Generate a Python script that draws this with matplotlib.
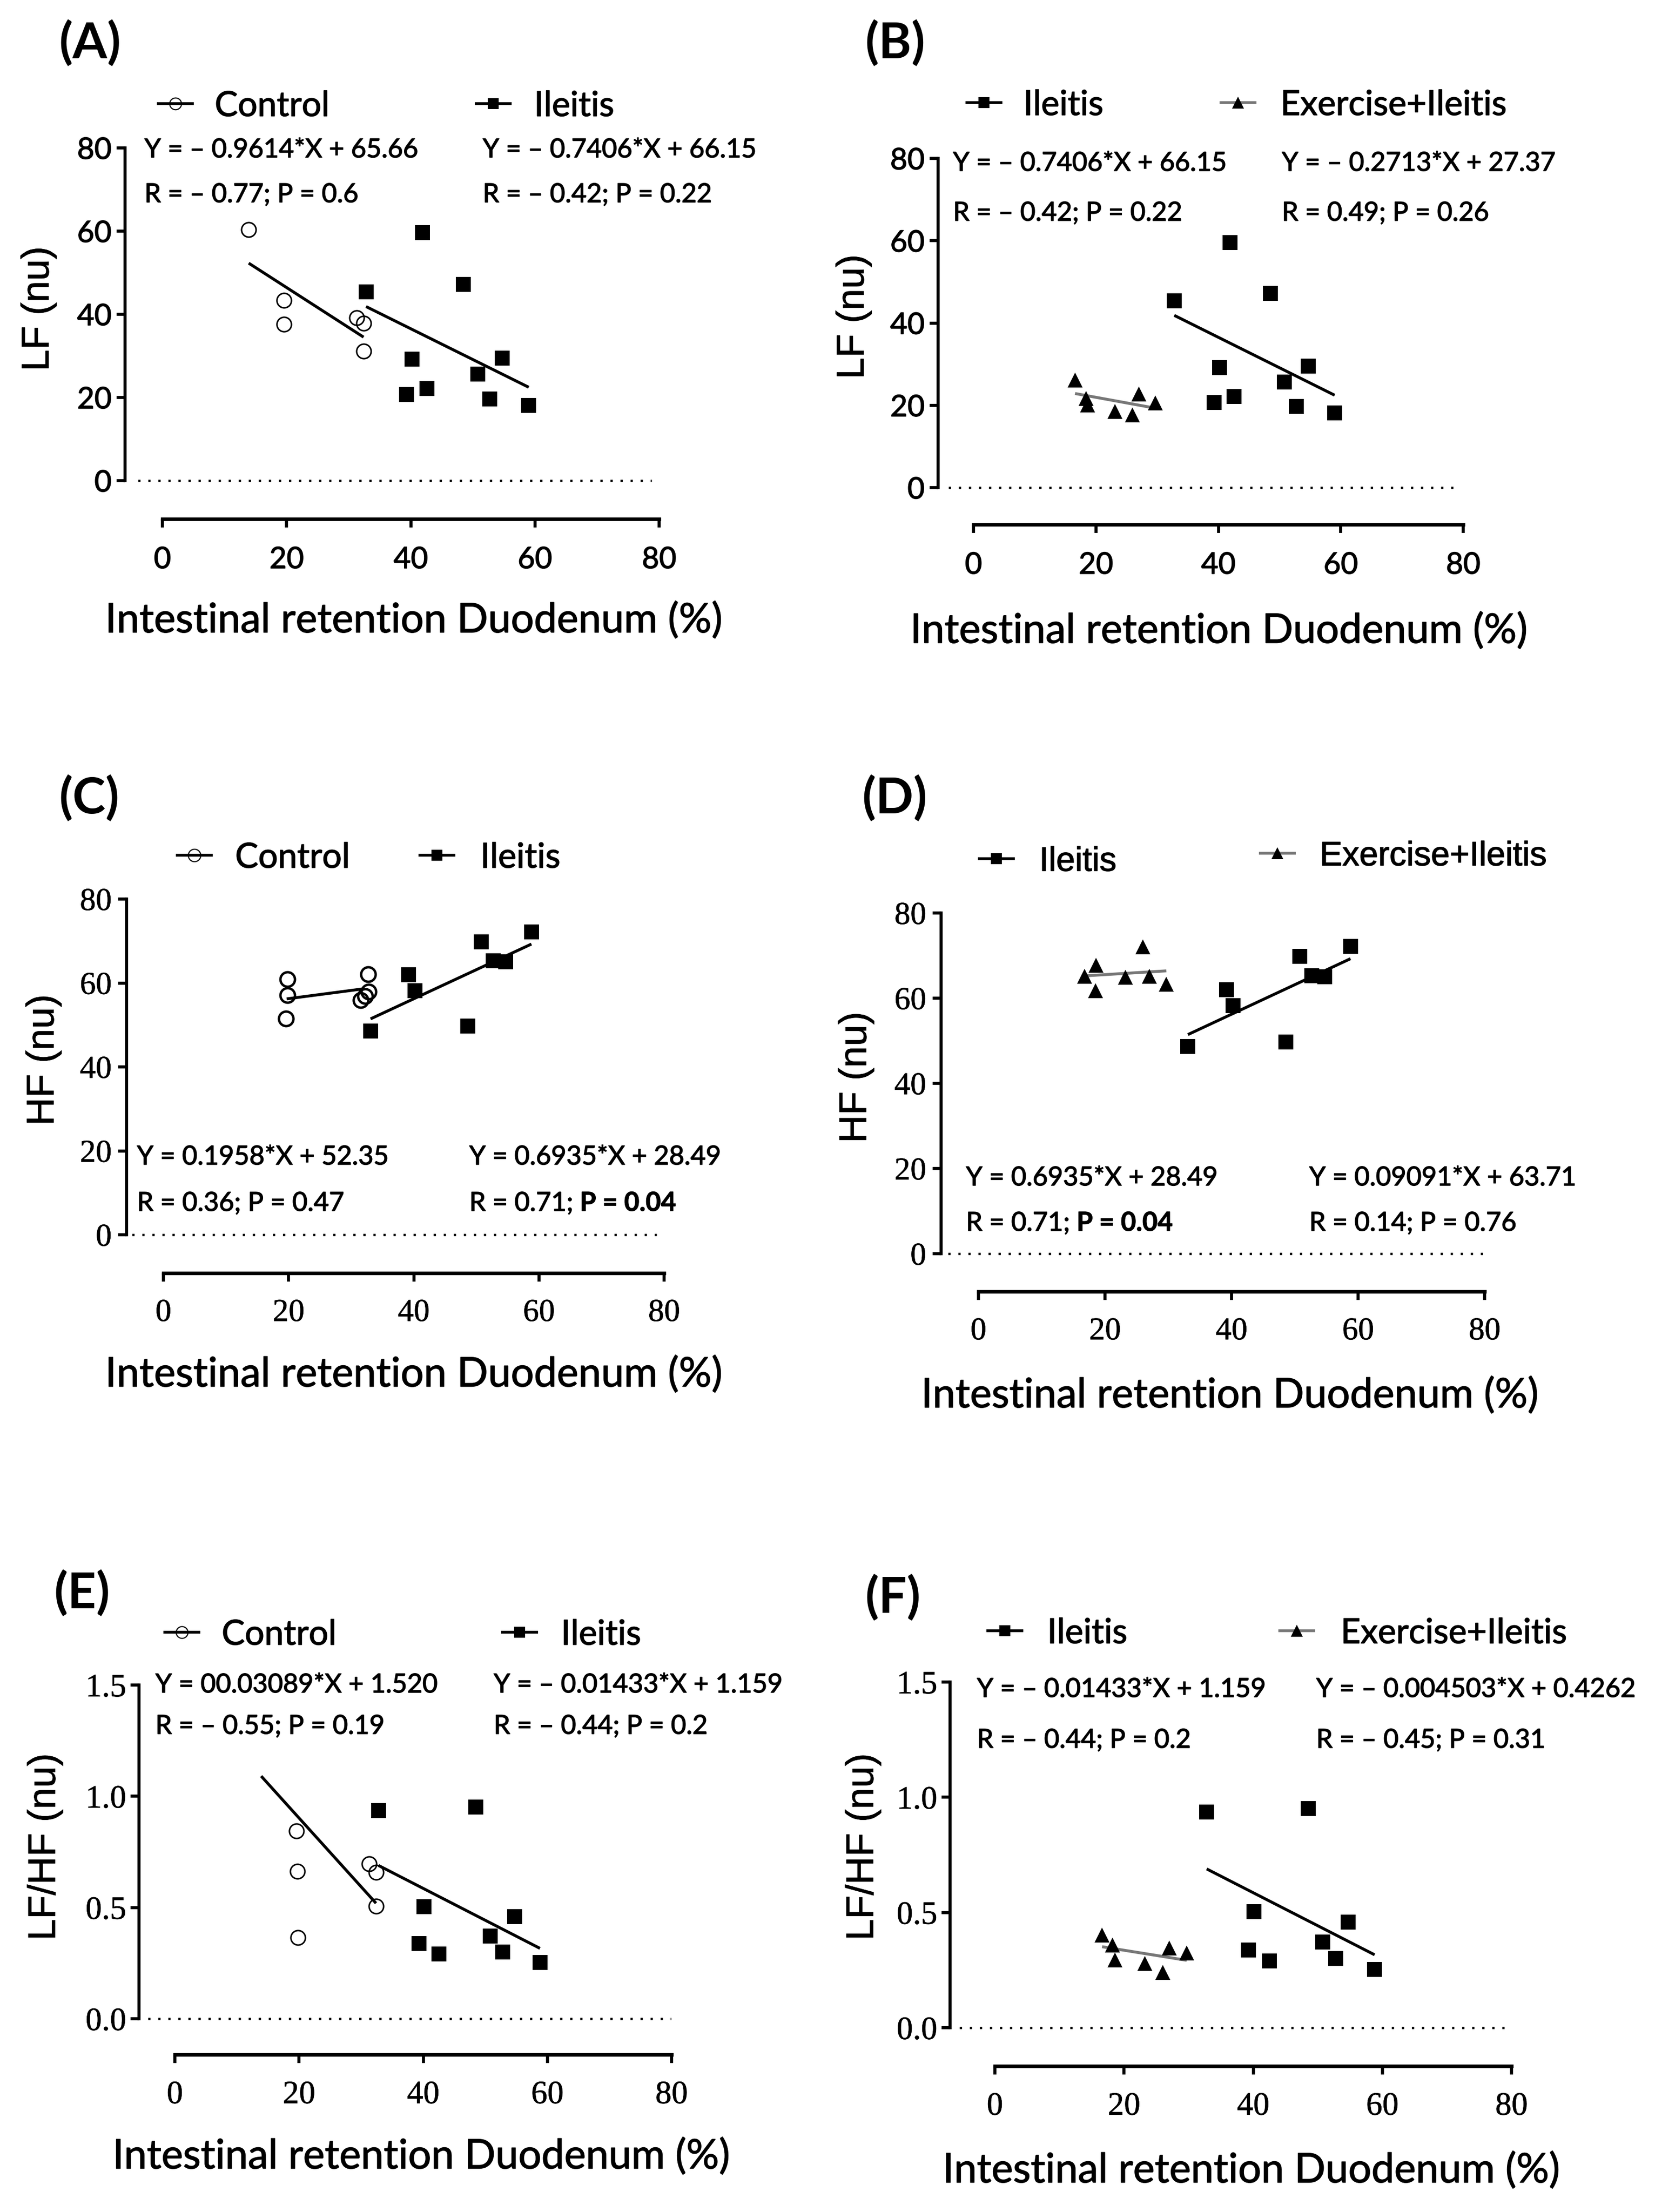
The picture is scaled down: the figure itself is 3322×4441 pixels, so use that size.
import matplotlib
matplotlib.use("Agg")
import matplotlib.pyplot as plt
import matplotlib.patheffects as pe
from matplotlib.lines import Line2D

W, H, DPI = 3322, 4441, 100
PT = 72.0 / DPI

SANS = ["Lato", "DejaVu Sans"]
ARIAL = ["Liberation Sans", "DejaVu Sans"]
SERIF = ["Liberation Serif", "DejaVu Serif"]


def stroke(w):
    return [pe.withStroke(linewidth=w, foreground="black")]


# ---------------- data ----------------
x_ticks = [0, 20, 40, 60, 80]
x_ticklabels = ["0", "20", "40", "60", "80"]
y_ticks_nu = [0, 20, 40, 60, 80]
y_ticklabels_nu = ["0", "20", "40", "60", "80"]
y_ticks_ratio = [0.0, 0.5, 1.0, 1.5]
y_ticklabels_ratio = ["0.0", "0.5", "1.0", "1.5"]

# LF (nu)
ctrl_lf_x = [13.9, 19.6, 19.6, 31.3, 32.4, 32.4]
ctrl_lf_y = [60.4, 43.3, 37.6, 39.2, 37.8, 31.1]
ile_lf_x = [32.8, 41.9, 48.5, 40.2, 39.3, 42.6, 50.8, 54.7, 52.7, 59.0]
ile_lf_y = [45.4, 59.6, 47.2, 29.2, 20.7, 22.1, 25.6, 29.5, 19.7, 18.1]
ex_lf_x = [16.6, 18.4, 18.6, 23.1, 26.0, 27.0, 29.7]
ex_lf_y = [26.2, 21.7, 20.1, 18.5, 17.7, 22.7, 20.6]

# HF (nu)
ctrl_hf_x = [19.8, 19.8, 19.6, 31.5, 32.2, 32.8, 32.7]
ctrl_hf_y = [60.9, 57.1, 51.5, 55.9, 56.9, 57.9, 62.1]
ile_hf_x = [33.1, 39.2, 40.2, 48.6, 50.8, 52.7, 54.7, 58.8]
ile_hf_y = [48.6, 62.0, 58.2, 49.7, 69.8, 65.3, 65.0, 72.2]
ex_hf_x = [16.8, 18.6, 18.5, 23.2, 26.0, 27.0, 29.7]
ex_hf_y = [65.2, 67.7, 61.7, 64.9, 72.0, 65.1, 63.3]

# LF/HF (nu)
ctrl_ratio_x = [19.6, 19.7, 19.8, 31.3, 32.4, 32.4]
ctrl_ratio_y = [0.844, 0.662, 0.366, 0.697, 0.658, 0.507]
ile_ratio_x = [32.8, 48.5, 40.1, 39.3, 42.5, 50.8, 54.7, 52.8, 58.8]
ile_ratio_y = [0.935, 0.952, 0.503, 0.337, 0.290, 0.372, 0.459, 0.300, 0.252]
ex_ratio_x = [16.6, 18.2, 18.6, 23.2, 26.0, 27.0, 29.7]
ex_ratio_y = [0.403, 0.359, 0.295, 0.279, 0.239, 0.345, 0.325]

# regression fits: (slope, intercept, x range of the drawn line)
fit_ctrl_lf = (-0.9614, 65.66, [13.9, 32.4])
fit_ile_lf = (-0.7406, 66.15, [32.8, 59.0])
fit_ex_lf = (-0.2713, 27.37, [16.6, 29.7])
fit_ctrl_hf = (0.1958, 52.35, [19.7, 31.8])
fit_ile_hf = (0.6935, 28.49, [33.1, 58.8])
fit_ex_hf = (0.09091, 63.71, [16.8, 29.7])
fit_ctrl_ratio = (-0.03089, 1.520, [13.9, 32.4])
fit_ile_ratio = (-0.01433, 1.159, [32.8, 58.8])
fit_ex_ratio = (-0.004503, 0.4262, [16.6, 29.7])

xlabel_text = "Intestinal retention Duodenum (%)"

# ---------------- styles ----------------
CTRL = dict(marker="o", ms=21, mfc="none", mec="black", mew=2.2, ls="none", color="black")
ILE = dict(marker="s", ms=21, mfc="black", mec="black", mew=0, ls="none", color="black")
EX = dict(marker="^", ms=22, mfc="black", mec="black", mew=0, ls="none", color="black")
GREY = "#777777"

fig = plt.figure(figsize=(W / DPI, H / DPI), dpi=DPI)
fig.patch.set_facecolor("white")


def fx(px):
    return px / W


def fy(py):
    return 1 - py / H


def ftext(px, pycap, s, size, family=SANS, weight="normal", capfrac=0.72, sw=1.0):
    base = pycap + capfrac * size / PT / 2.0
    t = fig.text(fx(px), fy(base), s, fontsize=size, family=family,
                 weight=weight, ha="left", va="baseline", color="black")
    if sw:
        t.set_path_effects(stroke(sw))
    return t


def legend_key(cx, cy, style, line_color, ms):
    fig.add_artist(Line2D([fx(cx - 37), fx(cx + 37)], [fy(cy), fy(cy)],
                          color=line_color, lw=4, transform=fig.transFigure,
                          solid_capstyle="butt"))
    st = dict(style)
    st["ms"] = ms
    st["mew"] = min(st["mew"], 1.6)
    fig.add_artist(Line2D([fx(cx)], [fy(cy)], transform=fig.transFigure, **st))


def draw_fit(ax, fit, color):
    m, b, xr = fit
    ax.plot(xr, [m * xr[0] + b, m * xr[1] + b], color=color, lw=4.2,
            solid_capstyle="butt", clip_on=False, zorder=2)


def make_panel(p):
    x0, x80, ytop, ybot = p["x0"], p["x80"], p["ytop"], p["ybot"]
    ax = fig.add_axes([fx(x0), fy(ybot), (x80 - x0) / W, (ybot - ytop) / H])
    ax.set_xlim(0, 80)
    ax.set_ylim(0, p["ymax"])
    ax.patch.set_visible(False)
    for s in ("top", "right"):
        ax.spines[s].set_visible(False)
    ax.spines["left"].set_position(("outward", (x0 - p["yspine"]) * PT))
    ax.spines["bottom"].set_position(("outward", (p["xspine"] - ybot) * PT))
    ax.spines["left"].set_linewidth(4.5)
    ax.spines["bottom"].set_linewidth(5.2)
    ax.spines["left"].set_capstyle("projecting")
    ax.spines["bottom"].set_capstyle("projecting")
    tf = p["tickfont"]
    ax.set_xticks(x_ticks, x_ticklabels, fontsize=p["ticksize"], family=tf)
    ax.set_yticks(p["yticks"], p["yticklabels"], fontsize=p["ticksize"], family=tf)
    for lab in ax.get_xticklabels() + ax.get_yticklabels():
        lab.set_path_effects(stroke(p["ticksw"]))
    ax.tick_params(axis="both", direction="out", length=12.5, width=4.5, color="black")
    ax.tick_params(axis="x", pad=p["xpad"])
    ax.tick_params(axis="y", pad=p["ypad"])
    # dotted zero reference line
    ax.plot(p["zero_x"], [0, 0], color="black", lw=3.3, ls=(0, (1, 3.4)),
            clip_on=False, zorder=1)
    # axis labels
    xl = ax.set_xlabel(xlabel_text, fontsize=59, family=SANS, va="center", ha="center")
    xl.set_path_effects(stroke(1.0))
    ax.xaxis.set_label_coords((p["xl"][0] - x0) / (x80 - x0),
                              (ybot - p["xl"][1]) / (ybot - ytop))
    yl = ax.set_ylabel(p["ylabel"], fontsize=56, family=ARIAL, va="center", ha="center")
    yl.set_path_effects(stroke(0.6))
    ax.yaxis.set_label_coords((p["yl"][0] - x0) / (x80 - x0),
                              (ybot - p["yl"][1]) / (ybot - ytop))
    # panel letter
    fig.text(fx(p["letter"][1]), fy(p["letter"][2]), p["letter"][0], fontsize=72,
             family=SANS, weight="bold", ha="left", va="center")
    return ax


def bold_tail(ax, t, s, size):
    a = ax.annotate(s, xy=(1, 0), xycoords=t, xytext=(13, 0), textcoords="offset pixels",
                    fontsize=size, family=SANS, weight="bold", ha="left", va="bottom",
                    annotation_clip=False)
    a.set_path_effects(stroke(0.8))


EQ = 38
LEG = 50

# ================= Panel A =================
pA = dict(yspine=251, x0=326, x80=1323, ytop=297, ybot=965, xspine=1042, ymax=80,
          yticks=y_ticks_nu, yticklabels=y_ticklabels_nu, tickfont=SANS, ticksize=43,
          ticksw=1.0, xpad=27, ypad=7, zero_x=[-3.9, 78.8], xl=(831, 1246), yl=(77, 620),
          ylabel="LF (nu)", letter=("(A)", 118, 87))
ax = make_panel(pA)
draw_fit(ax, fit_ctrl_lf, "black")
draw_fit(ax, fit_ile_lf, "black")
ax.plot(ctrl_lf_x, ctrl_lf_y, clip_on=False, zorder=3, **CTRL)
ax.plot(ile_lf_x, ile_lf_y, clip_on=False, zorder=3, **ILE)
legend_key(352, 208, CTRL, "black", 17)
ftext(431, 208, "Control", LEG)
legend_key(990, 208, ILE, "black", 16)
ftext(1072, 208, "Ileitis", LEG)
ftext(290, 297, "Y = – 0.9614*X + 65.66", EQ)
ftext(290, 387, "R = – 0.77; P = 0.6", EQ)
ftext(969, 297, "Y = – 0.7406*X + 66.15", EQ)
ftext(969, 387, "R = – 0.42; P = 0.22", EQ)

# ================= Panel B =================
pB = dict(yspine=1883, x0=1954, x80=2937, ytop=318, ybot=979, xspine=1053, ymax=80,
          yticks=y_ticks_nu, yticklabels=y_ticklabels_nu, tickfont=SANS, ticksize=43,
          ticksw=1.0, xpad=27, ypad=7, zero_x=[-4.1, 78.7], xl=(2447, 1267), yl=(1713, 636),
          ylabel="LF (nu)", letter=("(B)", 1736, 87))
ax = make_panel(pB)
draw_fit(ax, fit_ile_lf, "black")
draw_fit(ax, fit_ex_lf, GREY)
ax.plot(ile_lf_x, ile_lf_y, clip_on=False, zorder=3, **ILE)
ax.plot(ex_lf_x, ex_lf_y, clip_on=False, zorder=3, **EX)
legend_key(1975, 206, ILE, "black", 16)
ftext(2054, 206, "Ileitis", LEG)
legend_key(2485, 206, EX, GREY, 17)
ftext(2570, 206, "Exercise+Ileitis", LEG)
ftext(1913, 324, "Y = – 0.7406*X + 66.15", EQ)
ftext(1913, 424, "R = – 0.42; P = 0.22", EQ)
ftext(2573, 324, "Y = – 0.2713*X + 27.37", EQ)
ftext(2573, 424, "R = 0.49; P = 0.26", EQ)

# ================= Panel C =================
pC = dict(yspine=254, x0=328, x80=1333, ytop=1805, ybot=2479, xspine=2556, ymax=80,
          yticks=y_ticks_nu, yticklabels=y_ticklabels_nu, tickfont=SERIF, ticksize=46,
          ticksw=0.5, xpad=25, ypad=9, zero_x=[-5.0, 78.8], xl=(831, 2760), yl=(87, 2128),
          ylabel="HF (nu)", letter=("(C)", 118, 1603))
ax = make_panel(pC)
draw_fit(ax, fit_ctrl_hf, "black")
draw_fit(ax, fit_ile_hf, "black")
ctrl_thick = dict(CTRL)
ctrl_thick["mew"] = 3.5
ax.plot(ctrl_hf_x, ctrl_hf_y, clip_on=False, zorder=3, **ctrl_thick)
ax.plot(ile_hf_x, ile_hf_y, clip_on=False, zorder=3, **ILE)
legend_key(390, 1717, ctrl_thick, "black", 18)
ftext(472, 1717, "Control", LEG)
legend_key(877, 1717, ILE, "black", 16)
ftext(964, 1717, "Ileitis", LEG)
ftext(275, 2319, "Y = 0.1958*X + 52.35", EQ)
ftext(275, 2412, "R = 0.36; P = 0.47", EQ)
ftext(942, 2319, "Y = 0.6935*X + 28.49", EQ)
t = ftext(942, 2412, "R = 0.71;", EQ)
bold_tail(ax, t, "P = 0.04", EQ)

# ================= Panel D =================
pD = dict(yspine=1889, x0=1964, x80=2980, ytop=1833, ybot=2517, xspine=2593, ymax=80,
          yticks=y_ticks_nu, yticklabels=y_ticklabels_nu, tickfont=SERIF, ticksize=46,
          ticksw=0.5, xpad=25, ypad=9, zero_x=[-4.8, 79.8], xl=(2469, 2802), yl=(1718, 2163),
          ylabel="HF (nu)", letter=("(D)", 1730, 1603))
ax = make_panel(pD)
draw_fit(ax, fit_ile_hf, "black")
draw_fit(ax, fit_ex_hf, GREY)
ax.plot(ile_hf_x, ile_hf_y, clip_on=False, zorder=3, **ILE)
ax.plot(ex_hf_x, ex_hf_y, clip_on=False, zorder=3, **EX)
legend_key(2000, 1724, ILE, "black", 16)
ftext(2086, 1724, "Ileitis", 49, family=ARIAL, capfrac=0.716)
legend_key(2564, 1713, EX, GREY, 17)
ftext(2649, 1713, "Exercise+Ileitis", 49, family=ARIAL, capfrac=0.716)
ftext(1939, 2361, "Y = 0.6935*X + 28.49", EQ)
t = ftext(1939, 2452, "R = 0.71;", EQ)
bold_tail(ax, t, "P = 0.04", EQ)
ftext(2628, 2361, "Y = 0.09091*X + 63.71", EQ)
ftext(2628, 2452, "R = 0.14; P = 0.76", EQ)

# ================= Panel E =================
pE = dict(yspine=279, x0=351, x80=1348, ytop=3383, ybot=4053, xspine=4125, ymax=1.5,
          yticks=y_ticks_ratio, yticklabels=y_ticklabels_ratio, tickfont=SERIF, ticksize=47,
          ticksw=0.5, xpad=25, ypad=6, zero_x=[-4.3, 79.9], xl=(846, 4330), yl=(90, 3708),
          ylabel="LF/HF (nu)", letter=("(E)", 108, 3199))
ax = make_panel(pE)
draw_fit(ax, fit_ctrl_ratio, "black")
draw_fit(ax, fit_ile_ratio, "black")
ax.plot(ctrl_ratio_x, ctrl_ratio_y, clip_on=False, zorder=3, **CTRL)
ax.plot(ile_ratio_x, ile_ratio_y, clip_on=False, zorder=3, **ILE)
legend_key(365, 3277, CTRL, "black", 17)
ftext(445, 3277, "Control", LEG)
legend_key(1043, 3277, ILE, "black", 16)
ftext(1126, 3277, "Ileitis", LEG)
ftext(312, 3379, "Y = 00.03089*X + 1.520", EQ)
ftext(312, 3462, "R = – 0.55; P = 0.19", EQ)
ftext(991, 3379, "Y = – 0.01433*X + 1.159", EQ)
ftext(991, 3462, "R = – 0.44; P = 0.2", EQ)

# ================= Panel F =================
pF = dict(yspine=1907, x0=1997, x80=3034, ytop=3377, ybot=4071, xspine=4148, ymax=1.5,
          yticks=y_ticks_ratio, yticklabels=y_ticklabels_ratio, tickfont=SERIF, ticksize=47,
          ticksw=0.5, xpad=25, ypad=6, zero_x=[-5.5, 80.0], xl=(2512, 4358), yl=(1732, 3708),
          ylabel="LF/HF (nu)", letter=("(F)", 1736, 3208))
ax = make_panel(pF)
draw_fit(ax, fit_ile_ratio, "black")
draw_fit(ax, fit_ex_ratio, GREY)
ax.plot(ile_ratio_x, ile_ratio_y, clip_on=False, zorder=3, **ILE)
ax.plot(ex_ratio_x, ex_ratio_y, clip_on=False, zorder=3, **EX)
legend_key(2017, 3274, ILE, "black", 16)
ftext(2102, 3274, "Ileitis", LEG)
legend_key(2603, 3274, EX, GREY, 17)
ftext(2691, 3274, "Exercise+Ileitis", LEG)
ftext(1961, 3388, "Y = – 0.01433*X + 1.159", EQ)
ftext(1961, 3490, "R = – 0.44; P = 0.2", EQ)
ftext(2642, 3388, "Y = – 0.004503*X + 0.4262", EQ)
ftext(2642, 3490, "R = – 0.45; P = 0.31", EQ)

fig.savefig("out.png", dpi=DPI, facecolor="white")
